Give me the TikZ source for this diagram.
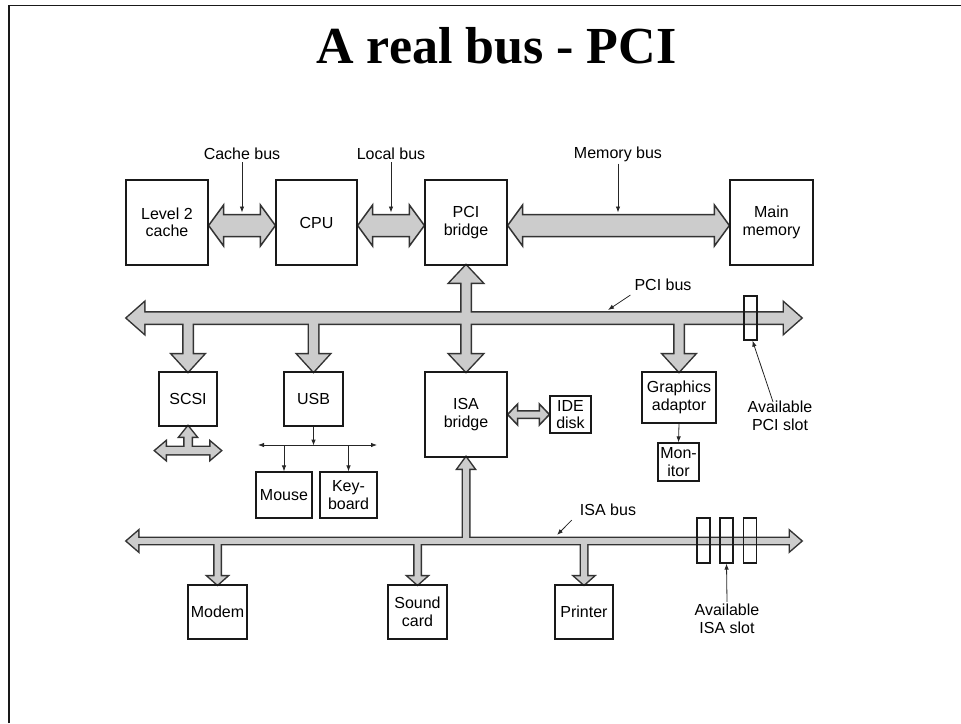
\documentclass[tikz,border=0pt]{standalone}
\usepackage{fontspec}
\setmainfont{Liberation Sans}
\newfontfamily\titlefont{Liberation Serif}
\usetikzlibrary{calc,arrows.meta}
\pgfdeclarelayer{bg}
\pgfsetlayers{bg,main}
% horizontal double fat arrow: opts, left tip, right tip, half shaft, half head, head length
\newcommand{\hdbl}[6]{%
  \path[#1] let \p1=(#2), \p2=(#3) in
  (\x1,\y1) -- ({\x1+#6},{\y1+#5}) -- ({\x1+#6},{\y1+#4}) -- ({\x2-#6},{\y1+#4})
  -- ({\x2-#6},{\y1+#5}) -- (\x2,\y1) -- ({\x2-#6},{\y1-#5}) -- ({\x2-#6},{\y1-#4})
  -- ({\x1+#6},{\y1-#4}) -- ({\x1+#6},{\y1-#5}) -- cycle;}
% vertical double fat arrow: opts, top tip, bottom tip, half shaft, half head, head length
\newcommand{\vdbl}[6]{%
  \path[#1] let \p1=(#2), \p2=(#3) in
  (\x1,\y1) -- ({\x1+#5},{\y1-#6}) -- ({\x1+#4},{\y1-#6}) -- ({\x1+#4},{\y2+#6})
  -- ({\x1+#5},{\y2+#6}) -- (\x1,\y2) -- ({\x1-#5},{\y2+#6}) -- ({\x1-#4},{\y2+#6})
  -- ({\x1-#4},{\y1-#6}) -- ({\x1-#5},{\y1-#6}) -- cycle;}
% vertical single fat arrow: opts, start (y used), tip, half shaft, half head, signed head length
\newcommand{\vone}[6]{%
  \path[#1] let \p1=(#2), \p2=(#3) in
  ({\x2-#4},\y1) -- ({\x2-#4},{\y2+(#6)}) -- ({\x2-#5},{\y2+(#6)}) -- (\x2,\y2)
  -- ({\x2+#5},{\y2+(#6)}) -- ({\x2+#4},{\y2+(#6)}) -- ({\x2+#4},\y1) -- cycle;}
\newcommand{\pcigroup}[1]{%
  \hdbl{#1}{pcil}{pcir}{5.5pt}{15pt}{17pt}
  \vdbl{#1}{pcib.south}{isab.north}{4.5pt}{16pt}{17pt}
  \vone{#1}{pcil}{scsi.north}{4.5pt}{15.5pt}{17pt}
  \vone{#1}{pcil}{usb.north}{4.5pt}{15.5pt}{17pt}
  \vone{#1}{pcil}{gfx.north}{4.5pt}{15.5pt}{17pt}}
\newcommand{\isagroup}[1]{%
  \hdbl{#1}{isal}{isar}{2.8pt}{9.5pt}{11pt}
  \vone{#1}{isal}{isab.south}{3pt}{8pt}{-11pt}
  \vone{#1}{isal}{modem.north}{3pt}{9pt}{8pt}
  \vone{#1}{isal}{sound.north}{3pt}{9pt}{8pt}
  \vone{#1}{isal}{printer.north}{3pt}{9pt}{8pt}}
\newcommand{\scsigroup}[1]{%
  \hdbl{#1}{scsil}{scsir}{3.5pt}{8.5pt}{10pt}
  \vone{#1}{scsil}{scsi.south}{3.5pt}{8pt}{-10pt}}
\begin{document}
\begin{tikzpicture}[x=1pt,y=-1pt,
  box/.style={draw=black!90, line width=1.2pt, inner sep=0pt, align=center,
    font=\fontsize{16}{17.5}\selectfont},
  lbl/.style={inner sep=2pt, align=center, font=\fontsize{16}{18}\selectfont},
  ptr/.style={draw=black!85, line width=0.8pt, -{Latex[length=6pt,width=4.5pt]}},
  outl/.style={draw=black!80, line width=3pt},
  fil/.style={fill=black!20},
  fat/.style={draw=black!80, line width=1.5pt, fill=black!20},
  slot/.style={draw=black!90, line width=1.2pt, minimum width=13pt,
    minimum height=44pt, inner sep=0pt}]
\useasboundingbox (0,0) rectangle (961,723);
% frame
\draw[line width=1.7pt, black!90] (8.8,723) -- (8.8,5.5) -- (961,5.5);
% title
\node[font=\titlefont\bfseries\fontsize{52}{52}\selectfont, anchor=base, inner sep=0pt]
  (title) at (496.5,63) {A real bus - PCI};
% boxes
\node[box, minimum width=82pt, minimum height=85pt] (l2) at (167,222.5) {Level 2\\cache};
\node[box, minimum width=81pt, minimum height=85pt] (cpu) at (316.5,222.5) {CPU};
\node[box, minimum width=82pt, minimum height=85pt] (pcib) at (466,222.5) {PCI\\bridge};
\node[box, minimum width=83pt, minimum height=85pt] (mem) at (771.5,222.5) {Main\\memory};
\node[box, minimum width=58pt, minimum height=54pt] (scsi) at (188,399) {SCSI};
\node[box, minimum width=59pt, minimum height=54pt] (usb) at (313.5,399) {USB};
\node[box, minimum width=82pt, minimum height=85pt] (isab) at (466,414.5) {ISA\\bridge};
\node[box, minimum width=41pt, minimum height=37pt] (ide) at (570.5,414.5) {IDE\\disk};
\node[box, minimum width=74pt, minimum height=51pt] (gfx) at (679,397.5) {Graphics\\adaptor};
\node[box, minimum width=41pt, minimum height=38pt] (mon) at (678.5,462) {Mon-\\itor};
\node[box, minimum width=56pt, minimum height=46pt] (mouse) at (284,495) {Mouse};
\node[box, minimum width=57pt, minimum height=46pt] (kbd) at (348.5,495) {Key-\\board};
\node[box, minimum width=59pt, minimum height=54pt] (modem) at (217.5,612) {Modem};
\node[box, minimum width=59pt, minimum height=54pt] (sound) at (417.5,612) {Sound\\card};
\node[box, minimum width=58pt, minimum height=54pt] (printer) at (584,612) {Printer};
% bus end points
\coordinate (pcil) at (127,318);
\coordinate (pcir) at (801,318);
\coordinate (isal) at (127,541);
\coordinate (isar) at (801,541);
\coordinate (scsil) at ($(scsi.south)+(-32.5,24)$);
\coordinate (scsir) at ($(scsi.south)+(32.5,24)$);
% fat buses
\begin{pgfonlayer}{bg}
  \hdbl{fat}{$(l2.east)+(0,3)$}{$(cpu.west)+(0,3)$}{11pt}{20.5pt}{15pt}
  \hdbl{fat}{$(cpu.east)+(0,3)$}{$(pcib.west)+(0,3)$}{11pt}{20.5pt}{15pt}
  \hdbl{fat}{$(pcib.east)+(0,3)$}{$(mem.west)+(0,3)$}{11pt}{20.5pt}{15pt}
  \hdbl{fat}{isab.east}{ide.west}{3.75pt}{10.5pt}{10pt}
  \pcigroup{outl}
  \pcigroup{fil}
  \isagroup{outl}
  \isagroup{fil}
  \scsigroup{outl}
  \scsigroup{fil}
\end{pgfonlayer}
% slots
\node[slot] (pslot) at (750.5,318) {};
\node[slot, minimum height=45pt] (islot1) at (703.5,540.5) {};
\node[slot, minimum height=45pt] (islot2) at (726.5,540.5) {};
\node[slot, minimum height=45pt] (islot3) at (750,540.5) {};
% labels and pointers
\node[lbl] (cachelbl) at (242,154) {Cache bus};
\node[lbl] (locallbl) at (391,154) {Local bus};
\node[lbl] (memlbl) at (618,154) {Memory bus};
\coordinate (cachept) at (242,212.5);
\coordinate (localpt) at (391,212.5);
\coordinate (mempt) at (618,212.5);
\draw[ptr] (cachelbl) -- (cachept);
\draw[ptr] (locallbl) -- (localpt);
\draw[ptr] (memlbl) -- (mempt);
\node[lbl] (pcilbl) at (663,285) {PCI bus};
\coordinate (pcipt) at (608,310);
\draw[ptr] ($(pcilbl.south west)+(-2,2)$) -- (pcipt);
\node[lbl] (isalbl) at (608,510) {ISA bus};
\coordinate (isapt) at (557,535);
\draw[ptr] ($(isalbl.south west)+(-6,2)$) -- (isapt);
\node[lbl] (pslotlbl) at (780,416) {Available\\PCI slot};
\draw[ptr] ($(pslotlbl.north)+(-7,3)$) -- ($(pslot.south)+(2,0)$);
\node[lbl] (islotlbl) at (727,619) {Available\\ISA slot};
\draw[ptr] (islotlbl.north) -- (islot2.south);
% USB network
\coordinate (usbj) at ($(usb.south)+(0,19)$);
\coordinate (usbl) at (258,445);
\coordinate (usbr) at (377,445);
\draw[ptr] (usb.south) -- (usbj);
\draw[ptr, {Latex[length=6pt,width=4.5pt]}-{Latex[length=6pt,width=4.5pt]}] (usbl) -- (usbr);
\draw[ptr] (mouse.north |- usbl) -- (mouse.north);
\draw[ptr] (kbd.north |- usbl) -- (kbd.north);
\draw[ptr] (gfx.south) -- (mon.north);
\end{tikzpicture}
\end{document}
